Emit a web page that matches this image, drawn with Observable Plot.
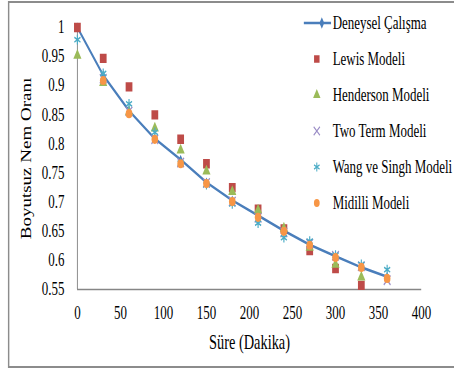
<!DOCTYPE html>
<html>
<head>
<meta charset="utf-8">
<script src="https://cdn.jsdelivr.net/npm/d3@7"></script>
<script src="https://cdn.jsdelivr.net/npm/@observablehq/plot@0.6"></script>
<style>
  html, body { margin: 0; padding: 0; background: #fff; overflow: hidden; }
  #wrap {
    position: absolute; left: 0; top: 0;
    width: 631px; height: 374px;
    transform: scaleX(0.72); transform-origin: 0 0;
    font-family: "Liberation Serif", "Times New Roman", serif;
  }
  #border {
    position: absolute; left: 11px; top: 1px; width: 640px; height: 367px;
    border: 2px solid #8c8c8c; box-sizing: border-box;
  }
  #chart { position: absolute; left: 0; top: 0; }
  #legend { position: absolute; left: 420px; top: 5px; }
  .row { display: flex; align-items: center; height: 36px; white-space: nowrap; }
  .row span { font-size: 18px; color: #000; margin-left: 2px; }
</style>
</head>
<body>
<div id="wrap">
  <div id="border"></div>
  <div id="chart"></div>
  <div id="legend"></div>
</div>
<script>
// Drying time (minutes)
const time = [0, 30, 60, 90, 120, 150, 180, 210, 240, 270, 300, 330, 360];

// Dimensionless moisture ratio: experiment and model predictions
const deneysel  = [1.000, 0.918, 0.857, 0.809, 0.773, 0.734, 0.703, 0.677, 0.651, 0.627, 0.607, 0.588, 0.572];
const lewis     = [1.000, 0.947, 0.898, 0.850, 0.808, 0.766, 0.725, 0.688, 0.654, 0.617, 0.586, 0.557, null];
const henderson = [0.952, 0.905, 0.855, 0.827, 0.789, 0.753, 0.718, 0.686, 0.655, 0.622, 0.593, 0.571, null];
const twoTerm   = [null, 0.912, 0.856, 0.808, 0.768, 0.733, 0.701, 0.673, 0.648, 0.629, 0.608, 0.590, 0.566];
const wangSingh = [0.979, 0.921, 0.869, 0.820, 0.767, 0.730, 0.697, 0.664, 0.639, 0.633, 0.609, 0.593, 0.584];
const midilli   = [null, 0.909, 0.852, 0.808, 0.766, 0.732, 0.701, 0.674, 0.650, 0.626, 0.605, 0.588, 0.569];

const xTicks = [0, 50, 100, 150, 200, 250, 300, 350, 400];
const yTicks = [0.55, 0.6, 0.65, 0.7, 0.75, 0.8, 0.85, 0.9, 0.95, 1];
const xTitle = "Süre (Dakika)";
const yTitle = "Boyutsuz Nem Oranı";

const series = [
  {name: "Deneysel Çalışma",   values: deneysel,  color: "#4A7EBB", symbol: "diamond",  filled: true,  r: 3,   lr: 3.5},
  {name: "Lewis Modeli",       values: lewis,     color: "#BE4B48", symbol: "square",   filled: true,  r: 5.3, lr: 4.3},
  {name: "Henderson Modeli",   values: henderson, color: "#9BBB59", symbol: "triangle", filled: true,  r: 4.2, lr: 3.8},
  {name: "Two Term Modeli",    values: twoTerm,   color: "#9A8CC6", symbol: "times",    filled: false, r: 4.3, lr: 4},
  {name: "Wang ve Singh Modeli", values: wangSingh, color: "#4BACC6", symbol: "asterisk", filled: false, r: 4.6, lr: 4.2},
  {name: "Midilli Modeli",     values: midilli,   color: "#F79646", symbol: "circle",   filled: true,  r: 4.6, lr: 4}
];

const rows = s => time.map((t, i) => ({t, v: s.values[i]})).filter(d => d.v != null);

const dotMarks = series.map(s => Plot.dot(rows(s), {
  x: "t", y: "v", symbol: s.symbol, r: s.r,
  fill: s.filled ? s.color : "none",
  stroke: s.filled ? "none" : s.color,
  strokeWidth: 1.6
}));

const chart = Plot.plot({
  width: 631,
  height: 374,
  marginLeft: 107,
  marginRight: 46,
  marginTop: 27,
  marginBottom: 85,
  x: {domain: [0, 400]},
  y: {domain: [0.55, 1]},
  style: {fontFamily: "Liberation Serif, Times New Roman, serif", fontSize: "18px", color: "#000", background: "transparent"},
  marks: [
    Plot.axisX({ticks: xTicks, tickSize: 0, tickPadding: 17, label: null}),
    Plot.axisY({ticks: yTicks, tickSize: 0, tickPadding: 18, label: null, tickFormat: d => String(+d.toFixed(2))}),
    Plot.ruleX([0], {stroke: "#868686", strokeWidth: 1.3}),
    Plot.ruleY([0.55], {x1: 0, x2: 400, stroke: "#868686", strokeWidth: 1.3}),
    Plot.line(rows(series[0]), {x: "t", y: "v", stroke: series[0].color, strokeWidth: 2.6}),
    ...dotMarks,
    Plot.text([xTitle], {text: d => d, frameAnchor: "bottom", textAnchor: "middle", lineAnchor: "middle", dy: 53, fontSize: 20}),
    Plot.text([yTitle], {text: d => d, frameAnchor: "left", textAnchor: "middle", lineAnchor: "middle", rotate: -90, dx: -70, fontSize: 19})
  ]
});
document.getElementById("chart").appendChild(chart);

// Legend: a swatch per series followed by its name
const legend = d3.select("#legend");
series.forEach((s, i) => {
  const row = legend.append("div").attr("class", "row");
  const svg = row.append("svg").attr("width", 40).attr("height", 36);
  if (i === 0) {
    svg.append("line").attr("x1", 2).attr("x2", 40).attr("y1", 18).attr("y2", 18)
      .attr("stroke", s.color).attr("stroke-width", 2.6);
  }
  const symType = {diamond: d3.symbolDiamond, square: d3.symbolSquare, triangle: d3.symbolTriangle,
                   times: d3.symbolTimes, asterisk: d3.symbolAsterisk, circle: d3.symbolCircle}[s.symbol];
  svg.append("path")
    .attr("transform", `translate(${i === 0 ? 27 : 20},18)`)
    .attr("d", d3.symbol(symType, Math.PI * s.lr * s.lr)())
    .attr("fill", s.filled ? s.color : "none")
    .attr("stroke", s.filled ? "none" : s.color)
    .attr("stroke-width", 1.4);
  row.append("span").text(s.name);
});
</script>
</body>
</html>
